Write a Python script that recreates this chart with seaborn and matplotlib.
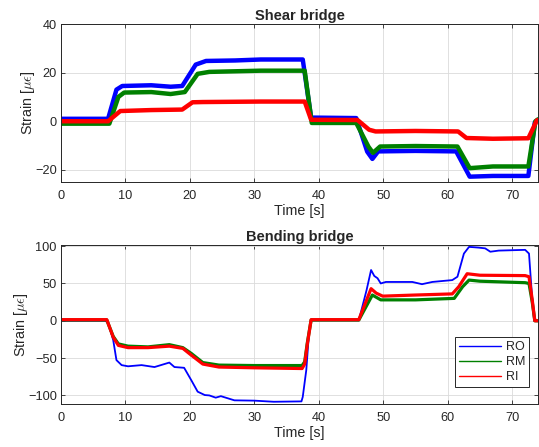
import numpy as np
import pandas as pd
import matplotlib
matplotlib.use("Agg")
import matplotlib.pyplot as plt
import seaborn as sns

# ---- Shear bridge: breakpoints of each gauge signal (time [s], strain [µε]) ----
shear_ro_t = [0, 7.3, 8.6, 9.5, 14, 17, 18.8, 20.9, 22.5, 27, 31, 37.5, 38.8, 45.8, 47.5,
              48.3, 49.2, 55, 61.3, 63.4, 67, 72.5, 73.5, 74]
shear_ro_v = [1, 1, 13, 14.5, 14.8, 14.2, 14.5, 23.3, 24.8, 25, 25.4, 25.4, 1.5, 1.3, -12.5,
              -15.5, -12.4, -12.2, -12.4, -22.8, -22.5, -22.5, -0.5, 0.5]

shear_rm_t = [0, 7.5, 8.9, 9.8, 14, 17, 19.2, 21.2, 23, 31, 37.8, 38.9, 45.8, 47.7, 48.4,
              49.5, 55, 61.5, 63.4, 67, 72.5, 73.6, 74]
shear_rm_v = [-1, -1, 10, 11.8, 12, 11.2, 12, 19.5, 20.3, 20.8, 20.8, -0.7, -0.7, -10.5, -13,
              -10.4, -10.2, -10.4, -19.3, -18.6, -18.6, 0, 0.8]

shear_ri_t = [0, 7.3, 9.2, 14, 18.8, 20.4, 22, 31, 37.8, 38.8, 46, 47.8, 48.8, 55, 61.6,
              62.9, 67, 72.5, 73.8, 74]
shear_ri_v = [0, 0, 4.2, 4.6, 4.8, 7.8, 7.9, 8.1, 8.1, 0.6, 0.5, -3.5, -4.2, -4, -4.2,
              -6.9, -7.2, -7.0, 0.3, 0.5]

# ---- Bending bridge ----
bend_ro_t = [0, 6.8, 7.3, 8.1, 8.6, 9.4, 10.4, 12.5, 14.5, 16.8, 17.6, 19.1, 20.2, 21.2,
             22.3, 23, 24, 24.8, 26.9, 30, 33, 37.3, 37.5, 38.05, 38.5, 38.8, 46.2, 47.4,
             48.1, 48.6, 49.1, 49.6, 50.4, 54.5, 56, 57.6, 60.7, 61.5, 62.5, 63.3, 64.8,
             65.8, 66.6, 67.9, 72, 72.6, 73, 73.4, 74]
bend_ro_v = [0, 0, -2, -26, -52.7, -59.4, -61, -59.4, -62, -56, -62, -63, -79.5, -95,
             -99.5, -100, -103, -101, -106.6, -107, -108.5, -108, -102, -66, -12.5, 0.5, 0.5, 41,
             68, 60, 57, 50, 52, 52, 49, 52, 54.5, 59, 90, 99, 98,
             97, 92.5, 94, 95, 90, 41, 0, 0]

bend_rm_t = [0, 7.1, 8.1, 8.9, 10.4, 13.5, 16.8, 18.9, 20.2, 22, 24.5, 30, 37.4, 37.8, 38.2,
             38.8, 46.2, 48.3, 49.6, 55, 61, 62.3, 63.3, 65, 72, 72.6, 73.1, 73.5, 74]
bend_rm_v = [1, 1, -21, -31, -34, -35, -32, -36, -43.7, -56, -59.4, -60, -60, -55, -30,
             1, 1, 34.5, 28, 28, 30, 45.6, 54.5, 53, 51, 50, 25, 0, 0]

bend_ri_t = [0, 7.1, 8.1, 8.9, 10.4, 13.5, 16.8, 18.9, 20.2, 22, 24.5, 30, 37.4, 37.8, 38.2,
             38.8, 46.2, 48.1, 48.9, 49.9, 55, 60.7, 61.7, 63, 65, 72, 72.6, 73.1, 73.5, 74]
bend_ri_v = [1.5, 1.5, -22, -33, -36, -36, -34, -37, -46, -58, -62, -63, -64, -58, -32,
             1.5, 1.5, 43, 37, 33, 34.5, 36, 45.6, 63, 61, 60.5, 59, 28, 0, 0]

sensors = ["RO", "RM", "RI"]
colors = {"RO": (0, 0, 1), "RM": (0, 0.5, 0), "RI": (1, 0, 0)}
x_ticks = [0, 10, 20, 30, 40, 50, 60, 70]
shear_yticks = [-20, 0, 20, 40]
bend_yticks = [-100, -50, 0, 50, 100]


def long_frame(series):
    parts = []
    for name, (t, v) in series.items():
        parts.append(pd.DataFrame({"Time": t, "Strain": v, "Sensor": name}))
    return pd.concat(parts, ignore_index=True)


shear_df = long_frame({"RO": (shear_ro_t, shear_ro_v),
                       "RM": (shear_rm_t, shear_rm_v),
                       "RI": (shear_ri_t, shear_ri_v)})
bend_df = long_frame({"RO": (bend_ro_t, bend_ro_v),
                      "RM": (bend_rm_t, bend_rm_v),
                      "RI": (bend_ri_t, bend_ri_v)})

sns.set_theme(style="white")
plt.rcParams["font.family"] = ["Liberation Sans", "DejaVu Sans"]
plt.rcParams["mathtext.fontset"] = "cm"

axis_col = (0.15, 0.15, 0.15)
fig = plt.figure(figsize=(5.39, 4.47), dpi=100)
ax1 = fig.add_axes([0.1132, 0.5928, 0.885, 0.3535])
ax2 = fig.add_axes([0.1132, 0.0962, 0.885, 0.3557])


def style_axes(ax, title, ylim, yticks):
    ax.set_xlim(0, 74)
    ax.set_ylim(*ylim)
    ax.set_xticks(x_ticks)
    ax.set_yticks(yticks)
    ax.grid(True, color=(0.86, 0.86, 0.86), linewidth=0.6)
    ax.set_axisbelow(True)
    for s in ax.spines.values():
        s.set_color(axis_col)
        s.set_linewidth(0.7)
        s.set_visible(True)
    ax.tick_params(direction="in", length=3, width=0.6, color=axis_col,
                   labelsize=9.2, labelcolor=axis_col, top=True, right=True,
                   bottom=True, left=True, pad=3)
    ax.tick_params(axis="x", pad=5.5)
    ax.set_xlabel("Time [s]", fontsize=10.3, color=axis_col, labelpad=2)
    ax.set_ylabel(r"Strain [$\mu\epsilon$]", fontsize=10.3, color=axis_col, labelpad=-1.5)
    ax.set_title(title, fontsize=10.5, fontweight="bold", pad=3)


sns.lineplot(data=shear_df, x="Time", y="Strain", hue="Sensor", hue_order=sensors,
             palette=colors, estimator=None, sort=False, ax=ax1, legend=False,
             linewidth=3.2)
style_axes(ax1, "Shear bridge", (-25, 40), shear_yticks)

sns.lineplot(data=bend_df, x="Time", y="Strain", hue="Sensor", hue_order=sensors,
             palette=colors, estimator=None, sort=False, ax=ax2, linewidth=2.3)
# the outer gauge trace is thinner than the other two
for ln in ax2.get_lines():
    if tuple(np.round(matplotlib.colors.to_rgb(ln.get_color()), 2)) == (0.0, 0.0, 1.0):
        ln.set_linewidth(1.3)
style_axes(ax2, "Bending bridge", (-111.5, 101.5), bend_yticks)

leg = ax2.legend(loc="lower right", bbox_to_anchor=(0.982, 0.107), borderaxespad=0,
                 fontsize=9, frameon=True, fancybox=False, framealpha=1,
                 edgecolor=axis_col, handlelength=3.4, labelspacing=0.25,
                 borderpad=0.3, handletextpad=0.4)
leg.get_frame().set_linewidth(0.7)
for h in leg.get_lines():
    h.set_linewidth(1.0)

fig.savefig("out.png", dpi=100)
